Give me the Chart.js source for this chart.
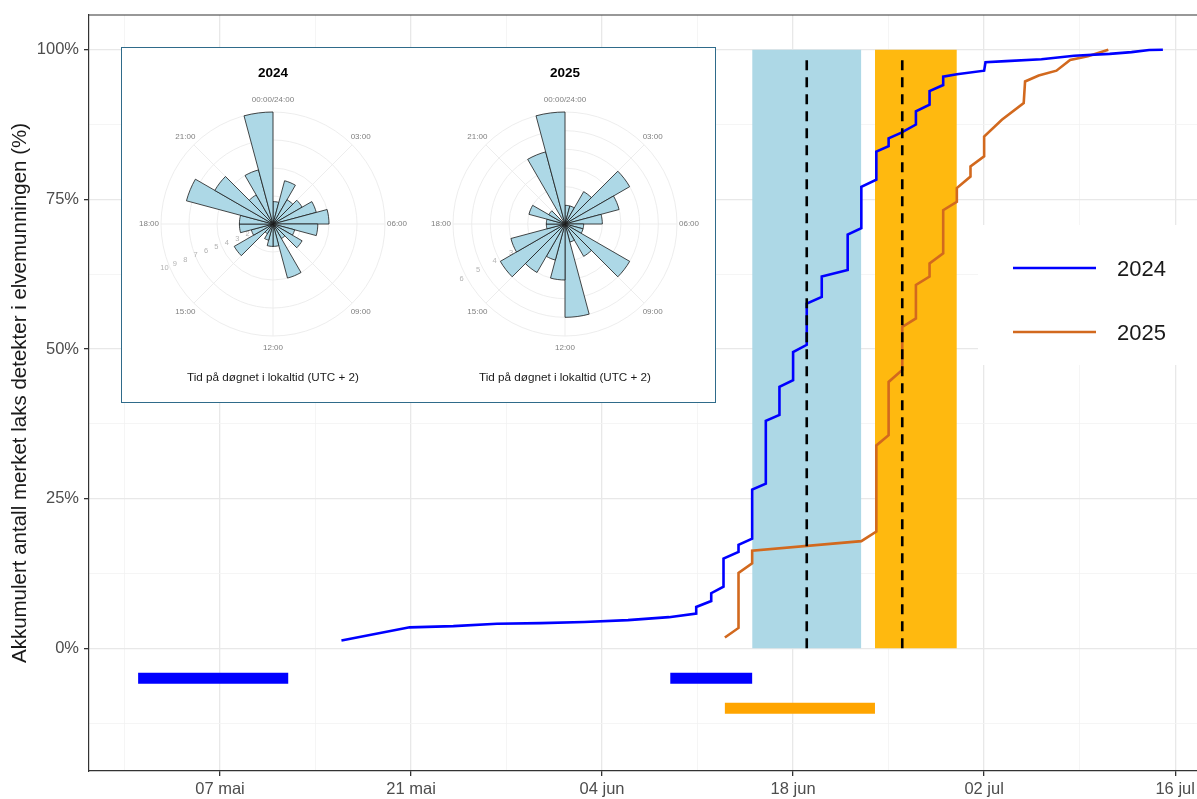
<!DOCTYPE html>
<html>
<head>
<meta charset="utf-8">
<script src="https://cdn.jsdelivr.net/npm/chart.js@4.4.1/dist/chart.umd.min.js"></script>
<style>
  html, body { margin: 0; padding: 0; background: #fff; overflow: hidden; }
  #wrap { position: relative; width: 1197px; height: 799px; }
  #main { position: absolute; left: 0; top: 0; }
  #inset { position: absolute; left: 121px; top: 47px; width: 593px; height: 354px;
           border: 1.3px solid #2F6B8A; background: #fff; }
  .rose { position: absolute; top: 0; }
</style>
</head>
<body>
<div id="wrap">
  <canvas id="main" width="1197" height="799"></canvas>
  <div id="inset">
    <canvas id="rose24" class="rose" width="290" height="354" style="left:6px"></canvas>
    <canvas id="rose25" class="rose" width="290" height="354" style="left:298px"></canvas>
  </div>
</div>
<script>
// x = days counted from 1 May (0 = 01 mai), y = cumulative share detected (%)
const days2024 = [14.9, 19.9, 23.1, 26.3, 29.5, 32.7, 35.9, 38.9, 40.9, 40.9, 42.0, 42.0, 42.9, 42.9,
  44.0, 44.0, 45.0, 45.0, 46.0, 46.0, 47.0, 47.0, 48.0, 48.0, 49.0, 49.0, 50.1, 50.1, 52.0, 52.0,
  53.0, 53.0, 54.1, 54.1, 55.0, 55.0, 55.9, 57.0, 57.0, 58.0, 58.0, 59.0, 59.0, 60.0, 62.0, 62.1,
  63.6, 66.2, 68.6, 71.2, 72.8, 74.1, 75.1];
const pct2024 = [1.3, 3.5, 3.7, 4.1, 4.2, 4.4, 4.7, 5.2, 5.8, 6.9, 7.9, 9.2, 10.3, 15.0,
  16.1, 17.3, 18.3, 26.5, 27.5, 38.0, 39.0, 43.7, 44.8, 49.5, 50.7, 57.6, 58.7, 62.1, 63.2, 69.1,
  70.2, 77.1, 78.3, 83.0, 83.9, 85.2, 86.1, 87.5, 89.7, 90.8, 93.1, 94.1, 95.5, 95.9, 96.5, 97.9,
  98.1, 98.4, 99.0, 99.3, 99.6, 99.95, 100];
const days2025 = [43.0, 44.0, 44.0, 45.0, 45.0, 53.0, 54.1, 54.1, 55.0, 55.0, 56.0, 56.0, 57.0, 57.0,
  58.0, 58.0, 59.0, 59.0, 60.0, 60.0, 61.0, 61.0, 62.0, 62.0, 63.3, 64.9, 65.0, 66.0, 67.3, 68.3,
  69.6, 71.1];
const pct2025 = [1.8, 3.4, 12.6, 14.2, 16.3, 17.9, 19.5, 33.9, 35.6, 44.5, 46.5, 53.7, 55.1, 60.7,
  62.1, 64.3, 66.0, 73.2, 74.6, 76.9, 78.8, 80.5, 82.2, 85.5, 88.3, 91.1, 94.7, 95.7, 96.5, 98.3,
  98.9, 100];

// tagging periods (bars below 0 %), main run periods and their midpoints
const tagDays2024 = [[0, 11], [39, 45]];
const tagDays2025 = [[43, 54]];
const span2024 = [45, 53];
const span2025 = [54, 60];
const mid2024 = 49;
const mid2025 = 56;

const tickDays = [6, 20, 34, 48, 62, 76];
const tickLabels = ['07 mai', '21 mai', '04 jun', '18 jun', '02 jul', '16 jul'];
const yMajor = [0, 25, 50, 75, 100];

// rose diagrams: detections per hour of day (00-01, 01-02, ...)
const hourBins = ['00', '01', '02', '03', '04', '05', '06', '07', '08', '09', '10', '11',
  '12', '13', '14', '15', '16', '17', '18', '19', '20', '21', '22', '23'];
const rose2024 = [2, 4, 2.5, 3, 4, 5, 4, 2, 3, 1.5, 5, 2, 2, 1.5, 1, 4, 2, 3, 3, 8, 6, 3, 5, 10];
const rose2025 = [1, 1, 2, 4, 3, 2, 1, 1, 4, 2, 1, 5, 3, 2, 3, 4, 3, 1, 1, 2, 1, 0, 4, 6];
const hourTickIdx = [0, 3, 6, 9, 12, 15, 18, 21];
const hourTickText = ['00:00/24:00', '03:00', '06:00', '09:00', '12:00', '15:00', '18:00', '21:00'];

Chart.defaults.font.family = "'Liberation Sans', Arial, sans-serif";

const zip = (xs, ys) => xs.map((x, i) => ({ x: x, y: ys[i] }));

const vline = d => ({
  data: [{ x: d, y: 0 }, { x: d, y: 98.5 }],
  borderColor: '#000', borderWidth: 2.6, borderDash: [10, 7], pointRadius: 0, fill: false
});
const hbar = (r, level, color) => ({
  data: [{ x: r[0], y: level }, { x: r[1], y: level }],
  borderColor: color, borderWidth: 11, borderCapStyle: 'butt', pointRadius: 0, fill: false
});
const band = (r, color) => ({
  data: [{ x: r[0], y: 100 }, { x: r[1], y: 100 }],
  borderWidth: 0, borderColor: color, backgroundColor: color, pointRadius: 0, fill: 'origin'
});

const xMinor = tickDays.map(d => d - 7);
const yMinor = yMajor.map(v => v - 12.5);

const ggLegend = {
  id: 'ggLegend',
  beforeDatasetsDraw(chart) {
    const ctx = chart.ctx;
    ctx.save();
    ctx.fillStyle = '#fff';
    ctx.fillRect(978, 225, 230, 140);
    const items = [['2024', '#0000FF'], ['2025', '#D2691E']];
    items.forEach((it, i) => {
      const y = 268 + i * 64;
      ctx.strokeStyle = it[1];
      ctx.lineWidth = 2.6;
      ctx.beginPath(); ctx.moveTo(1013, y); ctx.lineTo(1096, y); ctx.stroke();
      ctx.fillStyle = '#1A1A1A';
      ctx.font = "22px 'Liberation Sans', Arial, sans-serif";
      ctx.textBaseline = 'middle';
      ctx.fillText(it[0], 1117, y + 2);
    });
    ctx.restore();
  },
  afterDraw(chart) {
    const a = chart.chartArea, ctx = chart.ctx;
    ctx.save();
    ctx.strokeStyle = '#333';
    ctx.lineWidth = 1.2;
    ctx.beginPath(); ctx.moveTo(a.left, a.top); ctx.lineTo(a.right, a.top); ctx.stroke();
    ctx.restore();
  }
};

new Chart(document.getElementById('main'), {
  type: 'line',
  data: {
    datasets: [
      vline(mid2024), vline(mid2025),
      { label: '2024', data: zip(days2024, pct2024), borderColor: '#0000FF', borderWidth: 2.6,
        pointRadius: 0, fill: false },
      { label: '2025', data: zip(days2025, pct2025), borderColor: '#D2691E', borderWidth: 2.6,
        pointRadius: 0, fill: false },
      ...tagDays2024.map(r => hbar(r, -5, '#0000FF')),
      ...tagDays2025.map(r => hbar(r, -10, '#FFA500')),
      band(span2024, '#ADD8E6'), band(span2025, '#FFB90F')
    ]
  },
  options: {
    responsive: false,
    animation: false,
    layout: { padding: { top: 15, left: 0, right: 0, bottom: 0 } },
    plugins: { legend: { display: false }, tooltip: { enabled: false } },
    scales: {
      x: {
        type: 'linear', min: -3.6, max: 77.6,
        afterBuildTicks: s => { s.ticks = xMinor.concat(tickDays).sort((a, b) => a - b).map(v => ({ value: v })); },
        afterFit: s => { s.height = 28; s.paddingLeft = 0; s.paddingRight = 0; },
        ticks: {
          autoSkip: false, maxRotation: 0, padding: 4, color: '#4D4D4D', font: { size: 16.5 },
          callback: v => { const i = tickDays.indexOf(v); return i < 0 ? '' : tickLabels[i]; }
        },
        grid: {
          color: c => (c.tick && tickDays.includes(c.tick.value)) ? '#E8E8E8' : '#F2F2F2',
          lineWidth: c => (c.tick && tickDays.includes(c.tick.value)) ? 1.3 : 0.8,
          tickColor: c => (c.tick && tickDays.includes(c.tick.value)) ? '#333' : 'rgba(0,0,0,0)',
          tickLength: 5
        },
        border: { color: '#333', width: 1.2 }
      },
      y: {
        min: -20.5, max: 105.8,
        afterBuildTicks: s => { s.ticks = yMinor.concat(yMajor).sort((a, b) => a - b).map(v => ({ value: v })); },
        afterFit: s => { s.width = 89; s.paddingTop = 0; s.paddingBottom = 0; },
        ticks: {
          autoSkip: false, padding: 5, color: '#4D4D4D', font: { size: 16.5 },
          callback: v => yMajor.includes(v) ? v + '%' : ''
        },
        grid: {
          color: c => (c.tick && yMajor.includes(c.tick.value)) ? '#E8E8E8' : '#F2F2F2',
          lineWidth: c => (c.tick && yMajor.includes(c.tick.value)) ? 1.3 : 0.8,
          tickColor: c => (c.tick && yMajor.includes(c.tick.value)) ? '#333' : 'rgba(0,0,0,0)',
          tickLength: 5
        },
        border: { color: '#333', width: 1.2 },
        title: {
          display: true, text: 'Akkumulert antall merket laks detekter i elvemunningen (%)',
          color: '#1A1A1A', font: { size: 20.5 }, padding: { top: 8, bottom: 0 }
        }
      }
    }
  },
  plugins: [ggLegend]
});

// labels around and across the rose diagrams
const roseLabels = {
  id: 'roseLabels',
  beforeDatasetsDraw(chart, args, opts) {
    const s = chart.scales.r, ctx = chart.ctx;
    ctx.save();
    ctx.textAlign = 'center';
    ctx.textBaseline = 'middle';
    ctx.font = "7.5px 'Liberation Sans', Arial, sans-serif";
    ctx.fillStyle = '#B3B3B3';
    opts.values.forEach(v => {
      const p = s.getPointPosition(0, s.getDistanceFromCenterForValue(v) + 5, opts.angle * Math.PI / 180);
      ctx.fillText(String(v), p.x, p.y);
    });
    ctx.font = "8px 'Liberation Sans', Arial, sans-serif";
    ctx.fillStyle = '#7F7F7F';
    hourTickIdx.forEach((idx, k) => {
      const p = s.getPointPosition(idx, s.drawingArea + 12);
      ctx.fillText(hourTickText[k], p.x, p.y);
    });
    ctx.restore();
  }
};

function rose(id, title, counts, step, max, labelVals, labelAngle) {
  new Chart(document.getElementById(id), {
    type: 'polarArea',
    data: {
      labels: hourBins,
      datasets: [{ data: counts, backgroundColor: '#ADD8E6', borderColor: '#1A1A1A', borderWidth: 0.8 }]
    },
    options: {
      responsive: false,
      animation: false,
      layout: { padding: { left: 32, right: 32, top: 0, bottom: 0 } },
      plugins: {
        legend: { display: false },
        tooltip: { enabled: false },
        title: { display: true, text: title, color: '#000', font: { size: 13.5, weight: 'bold' },
                 padding: { top: 17, bottom: 30 } },
        subtitle: { display: true, position: 'bottom', text: 'Tid på døgnet i lokaltid (UTC + 2)',
                    color: '#1A1A1A', font: { size: 11.7 }, padding: { top: 34, bottom: 17 } },
        roseLabels: { values: labelVals, angle: labelAngle }
      },
      scales: {
        r: {
          min: 0, max: max,
          ticks: { display: false, stepSize: step },
          grid: { circular: true, color: '#EBEBEB', lineWidth: 0.9 },
          angleLines: { display: true, color: '#EBEBEB',
                        lineWidth: c => c.index % 3 === 0 ? 0.9 : 0 },
          pointLabels: { display: false }
        }
      }
    },
    plugins: [roseLabels]
  });
}

rose('rose24', '2024', rose2024, 2.5, 10, [2, 3, 4, 5, 6, 7, 8, 9, 10], 248);
rose('rose25', '2025', rose2025, 1, 6, [1, 2, 3, 4, 5, 6], 242);
</script>
</body>
</html>
